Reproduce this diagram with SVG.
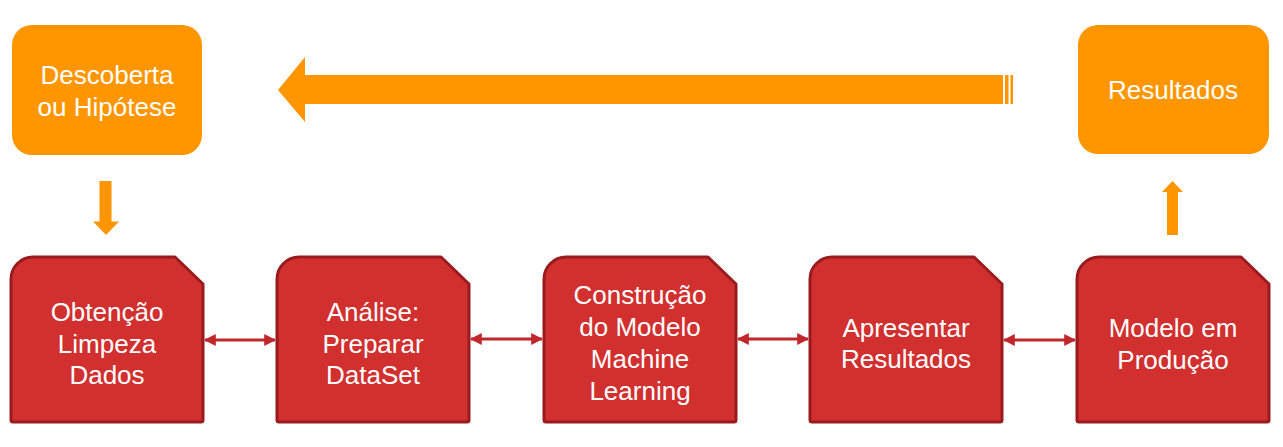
<svg xmlns="http://www.w3.org/2000/svg" width="1283" height="447" viewBox="0 0 1283 447">
<style>
.box{fill:#D22F2F;stroke:#9A1B1D;stroke-width:3;stroke-linejoin:round}
.ob{fill:#FF9600}
.t{font-family:"Liberation Sans",Arial,sans-serif;font-size:26px;fill:#fff;text-anchor:middle}
.conn{stroke:#C0272A;stroke-width:3;fill:none;marker-start:url(#ah);marker-end:url(#ah)}
</style>
<defs>
<marker id="ah" viewBox="0 0 10 10" refX="9" refY="5" markerWidth="4" markerHeight="4" orient="auto-start-reverse" markerUnits="strokeWidth">
<path d="M0,0 L10,5 L0,10 Z" fill="#C0272A"/>
</marker>
</defs>
<g id="descoberta">
<rect class="ob" x="12" y="25" width="190" height="130" rx="20"/>
<text class="t" x="107" y="84">Descoberta</text>
<text class="t" x="107" y="116">ou Hipótese</text>
</g>
<g id="resultados">
<rect class="ob" x="1078" y="25" width="191" height="129" rx="20"/>
<text class="t" x="1173" y="99">Resultados</text>
</g>
<g id="feedback-arrow">
<path class="ob" d="M278,90 L305,57 L305,75 L1003,75 L1003,104 L305,104 L305,122 Z"/>
<rect class="ob" x="1005" y="75" width="3.5" height="29"/>
<rect class="ob" x="1010.5" y="75" width="2.5" height="29"/>
</g>
<g id="down-arrow">
<path class="ob" d="M99.5,181 H111.5 V221.5 H119 L106,235 L93,221.5 H99.5 Z"/>
</g>
<g id="up-arrow">
<path class="ob" d="M1167,235 H1178 V192 H1183 L1172.5,181 L1162,192 H1167 Z"/>
</g>
<g id="obtencao">
<path class="box" d="M33,257 H175 L203,284 V420 Q203,422 201,422 H13 Q11,422 11,420 V279 A22,22 0 0 1 33,257 Z"/>
<text class="t" x="107" y="321">Obtenção</text>
<text class="t" x="107" y="353">Limpeza</text>
<text class="t" x="107" y="384">Dados</text>
</g>
<g id="analise">
<path class="box" d="M299,257 H441 L469,284 V420 Q469,422 467,422 H279 Q277,422 277,420 V279 A22,22 0 0 1 299,257 Z"/>
<text class="t" x="373" y="321">Análise:</text>
<text class="t" x="373" y="353">Preparar</text>
<text class="t" x="373" y="384">DataSet</text>
</g>
<g id="construcao">
<path class="box" d="M566,257 H708 L736,284 V420 Q736,422 734,422 H546 Q544,422 544,420 V279 A22,22 0 0 1 566,257 Z"/>
<text class="t" x="640" y="304">Construção</text>
<text class="t" x="640" y="336">do Modelo</text>
<text class="t" x="640" y="368">Machine</text>
<text class="t" x="640" y="400">Learning</text>
</g>
<g id="apresentar">
<path class="box" d="M832,257 H974 L1002,284 V420 Q1002,422 1000,422 H812 Q810,422 810,420 V279 A22,22 0 0 1 832,257 Z"/>
<text class="t" x="906" y="337">Apresentar</text>
<text class="t" x="906" y="368">Resultados</text>
</g>
<g id="producao">
<path class="box" d="M1099,257 H1241 L1269,284 V420 Q1269,422 1267,422 H1079 Q1077,422 1077,420 V279 A22,22 0 0 1 1099,257 Z"/>
<text class="t" x="1173" y="337">Modelo em</text>
<text class="t" x="1173" y="369">Produção</text>
</g>
<g id="connectors">
<line class="conn" x1="205" y1="340" x2="275" y2="340"/>
<line class="conn" x1="471" y1="339" x2="542" y2="339"/>
<line class="conn" x1="738" y1="339" x2="808" y2="339"/>
<line class="conn" x1="1004" y1="340" x2="1075" y2="340"/>
</g>
</svg>
